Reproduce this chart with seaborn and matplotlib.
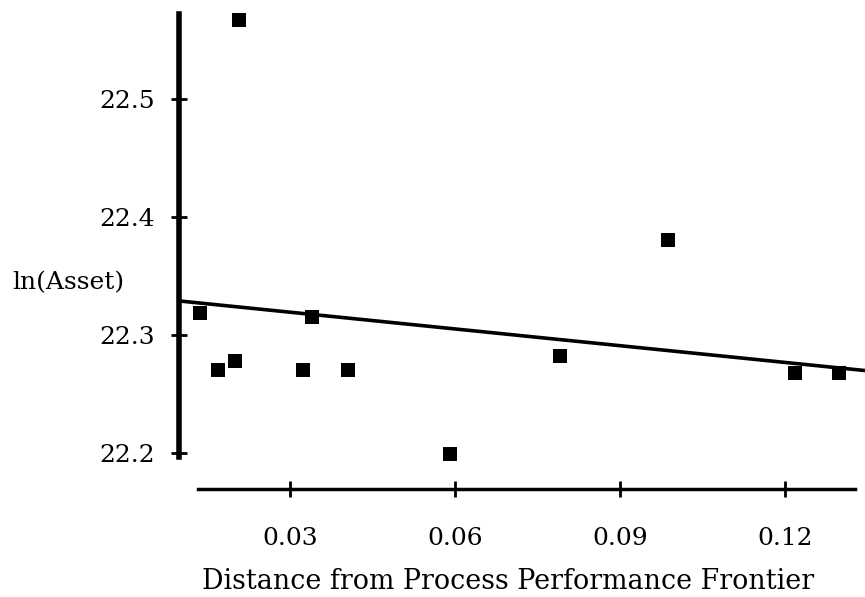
import seaborn as sns
import matplotlib.pyplot as plt
import pandas as pd

# values
distance = [0.0136, 0.0169, 0.0200, 0.0207, 0.0323, 0.0339, 0.0405,
            0.0590, 0.0790, 0.0987, 0.1217, 0.1297]
ln_asset = [22.319, 22.270, 22.278, 22.567, 22.270, 22.3155, 22.270,
            22.199, 22.2825, 22.3805, 22.268, 22.268]
x_ticks = [0.03, 0.06, 0.09, 0.12]
y_ticks = [22.2, 22.3, 22.4, 22.5]

df = pd.DataFrame({"distance": distance, "ln_asset": ln_asset})

sns.set_theme(style="white")
plt.rcParams['font.family'] = ['DejaVu Serif']
plt.rcParams['text.color'] = 'black'
plt.rcParams['axes.labelcolor'] = 'black'

fig = plt.figure(figsize=(8.65, 5.97), dpi=100)
ax = fig.add_axes([179 / 865, 1 - 489 / 597, 686 / 865, 489 / 597])
ax.set_xlim(0.0098, 0.1345)
ax.set_ylim(22.1695, 22.584)

sns.regplot(data=df, x="distance", y="ln_asset", ax=ax, ci=None,
            truncate=False, marker="s", color="black",
            scatter_kws=dict(s=90, linewidths=0, alpha=1),
            line_kws=dict(lw=2.6))

sns.despine(ax=ax)
ax.spines['left'].set_linewidth(4)
ax.spines['left'].set_bounds(22.197, 22.572)
ax.spines['bottom'].set_linewidth(2.5)
ax.spines['bottom'].set_bounds(0.0133, 0.1327)
for s in ('left', 'bottom'):
    ax.spines[s].set_color('black')

ax.set_xticks(x_ticks)
ax.set_xticklabels(["0.03", "0.06", "0.09", "0.12"])
ax.set_yticks(y_ticks)
ax.set_yticklabels(["22.2", "22.3", "22.4", "22.5"])
ax.tick_params(axis='both', direction='inout', length=11, width=2,
               colors='black', labelsize=18, bottom=True, left=True)
ax.tick_params(axis='x', pad=22)
ax.tick_params(axis='y', pad=12)

ax.set_xlabel('Distance from Process Performance Frontier', fontsize=19.4)
ax.xaxis.set_label_coords(0.48, -0.19)
ax.xaxis.label.set_va('center')
ax.set_ylabel('ln(Asset)', fontsize=18, rotation=0)
ax.yaxis.set_label_coords(-0.162, 0.421)
ax.yaxis.label.set_va('center')
ax.yaxis.label.set_ha('center')

plt.savefig("out.png", dpi=100)
